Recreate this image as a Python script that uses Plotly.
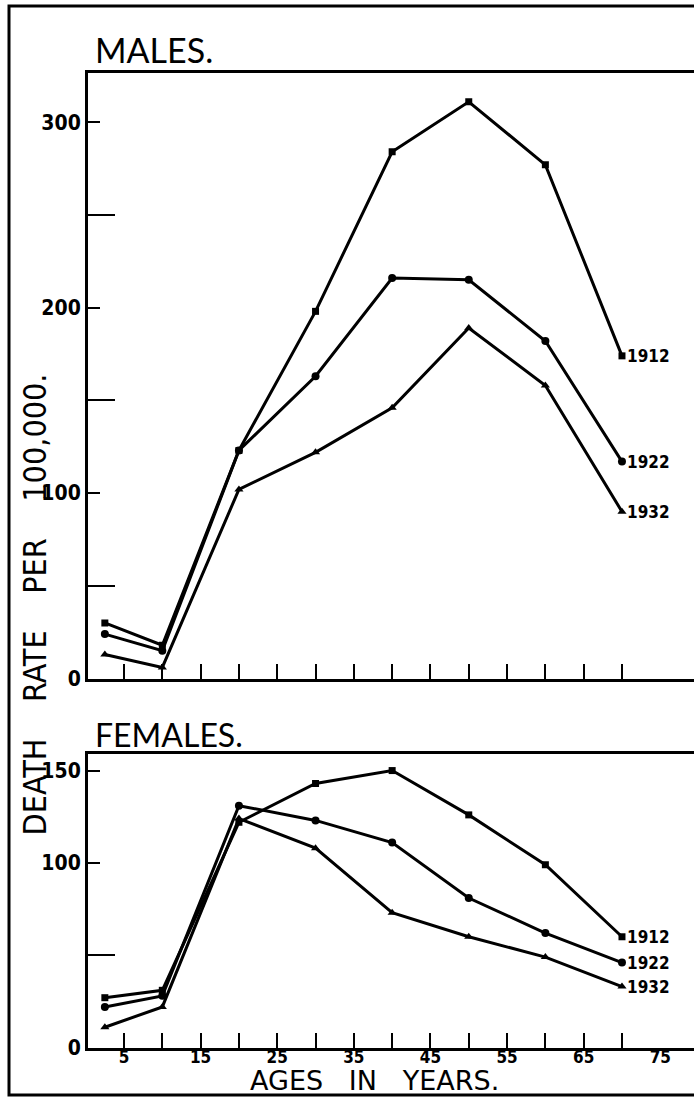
import plotly.graph_objects as go

# ---- data ----
ages = [2.5, 10, 20, 30, 40, 50, 60, 70]
years = ["1912", "1922", "1932"]
males = {
    "1912": [30, 18, 123, 198, 284, 311, 277, 174],
    "1922": [24, 15, 123, 163, 216, 215, 182, 117],
    "1932": [13, 6, 102, 122, 146, 189, 158, 90],
}
females = {
    "1912": [27, 31, 122, 143, 150, 126, 99, 60],
    "1922": [22, 28, 131, 123, 111, 81, 62, 46],
    "1932": [11, 22, 124, 108, 73, 60, 49, 33],
}
symbols = {"1912": "square", "1922": "circle", "1932": "triangle-up"}
msize = {"1912": 7, "1922": 8, "1932": 8}

x_ticks = [5, 10, 15, 20, 25, 30, 35, 40, 45, 50, 55, 60, 65, 70]
x_labels = [5, 15, 25, 35, 45, 55, 65, 75]
male_y_major = [0, 100, 200, 300]
male_y_minor = [50, 150, 250]
female_y_major = [0, 100, 150]
female_y_minor = [50]

W, H = 694, 1111
def py(p):
    return (H - p) / H
def px(p):
    return p / W

fig = go.Figure()
for yr in years:
    fig.add_trace(go.Scatter(x=ages, y=males[yr], mode="lines+markers",
                             line=dict(color="black", width=3),
                             marker=dict(symbol=symbols[yr], size=msize[yr], color="black"),
                             xaxis="x", yaxis="y", showlegend=False, hoverinfo="skip"))
    fig.add_trace(go.Scatter(x=ages, y=females[yr], mode="lines+markers",
                             line=dict(color="black", width=3),
                             marker=dict(symbol=symbols[yr], size=msize[yr], color="black"),
                             xaxis="x2", yaxis="y2", showlegend=False, hoverinfo="skip"))

# invisible carrier so the label-only age axis is drawn
fig.add_trace(go.Scatter(x=x_labels, y=[0] * len(x_labels), mode="markers",
                         marker=dict(opacity=0, size=1), xaxis="x3", yaxis="y2",
                         showlegend=False, hoverinfo="skip"))

tickfont = dict(family="DejaVu Sans Condensed", size=21, color="black", weight="bold")
xrange = [0.3, 79.4]
xdom = [px(88), 1.0]

common_x = dict(range=xrange, showgrid=False, zeroline=False, showline=True,
                linecolor="black", linewidth=3, mirror=True,
                ticks="inside", tickvals=x_ticks, ticklen=15, tickwidth=2,
                tickcolor="black", showticklabels=False, domain=xdom, fixedrange=True)

fig.update_layout(
    width=W, height=H,
    margin=dict(l=0, r=0, t=0, b=0),
    paper_bgcolor="white", plot_bgcolor="white",
    xaxis=dict(anchor="y", **common_x),
    xaxis2=dict(anchor="y2", **common_x),
    xaxis3=dict(overlaying="x2", anchor="y2", range=xrange, showgrid=False,
                zeroline=False, showline=False, ticks="", tickvals=x_labels,
                ticktext=[str(v) for v in x_labels], side="bottom",
                ticklabelstandoff=-3,
                tickfont=dict(family="DejaVu Sans Condensed", size=17, color="black",
                              weight="bold")),
    yaxis=dict(anchor="x", domain=[py(686), py(74)], range=[0, 326.4],
               showgrid=False, zeroline=False, showline=True, linecolor="black",
               linewidth=3, ticks="inside", tickvals=male_y_major, ticklen=12,
               tickwidth=2, tickcolor="black", tickfont=tickfont,
               minor=dict(tickvals=male_y_minor, ticks="inside", ticklen=27,
                          tickwidth=2, tickcolor="black")),
    yaxis2=dict(anchor="x2", domain=[py(1059), py(762)], range=[0, 159.1],
                showgrid=False, zeroline=False, showline=True, linecolor="black",
                linewidth=3, ticks="inside", tickvals=female_y_major, ticklen=12,
                tickwidth=2, tickcolor="black", tickfont=tickfont,
                minor=dict(tickvals=female_y_minor, ticks="inside", ticklen=27,
                           tickwidth=2, tickcolor="black")),
)

# outer frame
fig.add_shape(type="rect", xref="paper", yref="paper",
              x0=px(9), x1=1.02, y0=py(1107), y1=py(6),
              line=dict(color="black", width=3), fillcolor="rgba(0,0,0,0)")

ann = []
ann.append(dict(text="MALES.", x=px(93), y=py(50), xref="paper", yref="paper",
                xanchor="left", yanchor="middle", showarrow=False,
                font=dict(family="Lato", size=34, color="black")))
ann.append(dict(text="FEMALES.", x=px(93), y=py(743), xref="paper", yref="paper",
                xanchor="left", yanchor="middle", showarrow=False,
                font=dict(family="Lato", size=32, color="black")))
ann.append(dict(text="DEATH\u00a0\u00a0\u00a0 RATE\u00a0\u00a0\u00a0 PER\u00a0\u00a0\u00a0 100,000.",
                x=px(35), y=py(611),
                xref="paper", yref="paper", textangle=-90, showarrow=False,
                xanchor="center", yanchor="middle",
                font=dict(family="DejaVu Sans Condensed", size=32, color="black")))
ann.append(dict(text="AGES\u00a0\u00a0 IN\u00a0\u00a0 YEARS.", x=px(374), y=py(1105),
                xref="paper", yref="paper", showarrow=False,
                xanchor="center", yanchor="bottom", yshift=-5,
                font=dict(family="DejaVu Sans", size=27, color="black")))

for yr in years:
    ann.append(dict(text=yr, x=ages[-1], y=males[yr][-1], xref="x", yref="y",
                    xanchor="left", yanchor="middle", xshift=3, showarrow=False,
                    font=dict(family="DejaVu Sans Condensed", size=17, color="black",
                              weight="bold")))
    ann.append(dict(text=yr, x=ages[-1], y=females[yr][-1], xref="x2", yref="y2",
                    xanchor="left", yanchor="middle", xshift=3, showarrow=False,
                    font=dict(family="DejaVu Sans Condensed", size=17, color="black",
                              weight="bold")))

fig.update_layout(annotations=ann)
fig.write_html("out.html", config={"displayModeBar": False},
               post_script="document.body.style.margin='0';document.body.style.overflow='hidden';")
